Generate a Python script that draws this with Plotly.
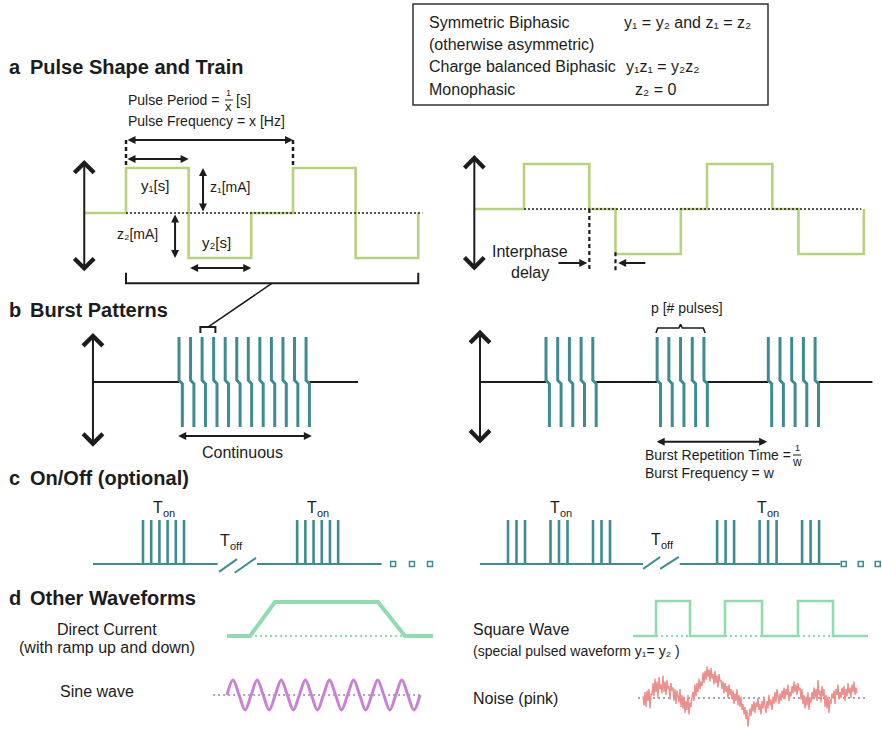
import plotly.graph_objects as go

W, H = 882, 729
FONT = "Liberation Sans, Arial, Helvetica, sans-serif"
INK = "#1c1c1c"
GREEN = "#b7d27b"
TEAL = "#3d8c91"
MINT = "#8fdcb2"
PURPLE = "#c880d8"
PINK = "#ef8f8b"
GRAY = "#8a8a8a"

# ------------------------------------------------------------------ data
# a (left): symmetric biphasic pulse train (time units, normalised amplitude)
pulse_t = [-2, 0, 0, 3, 3, 6, 6, 8, 8, 11, 11, 14, 14]
pulse_amp = [0, 0, 1, 1, -1, -1, 0, 0, 1, 1, -1, -1, 0]
pulse_period = 8
phase_width = 3

# a (right): biphasic pulse train with interphase delay
ipd_t = [-1.9, 0, 0, 2.5, 2.5, 3.5, 3.5, 6, 6, 7, 7, 9.5, 9.5, 10.5, 10.5, 13, 13]
ipd_amp = [0, 0, 1, 1, 0, 0, -1, -1, 0, 0, 1, 1, 0, 0, -1, -1, 0]

# b: burst patterns (pulse onsets in pulse periods)
cont_pulses = [0, 1, 2, 3, 4, 5, 6, 7, 8, 9, 10, 11]
burst_starts = [0, 9.5, 19]
pulses_per_burst = 5
burst_phase_gap = 0.29

# c: on/off cycling (group onsets, pulses per group)
onoff_left_groups = [0, 18.8]
onoff_left_n = 6
onoff_right_groups = [0, 5, 10, 24.6, 29.6, 34.6]
onoff_right_n = 3

# d: other waveforms
dc_t = [0, 2.3, 4.8, 15.1, 17.8, 20.6]
dc_amp = [0, 0, 1, 1, 0, 0]
sine_q = [0, 1, 2, 3, 4, 5, 6, 7, 8, 9, 10, 11, 12, 13, 14, 15, 16,
          17, 18, 19, 20, 21, 22, 23, 24, 25, 26, 27, 28, 29, 30, 31, 32]
sine_amp = [0, 1, 0, -1, 0, 1, 0, -1, 0, 1, 0, -1, 0, 1, 0, -1, 0,
            1, 0, -1, 0, 1, 0, -1, 0, 1, 0, -1, 0, 1, 0, -1, 0]
sq_t = [0, 2.3, 2.3, 5.7, 5.7, 9.2, 9.2, 12.9, 12.9, 16.5, 16.5, 20.0, 20.0, 23.5]
sq_amp = [0, 0, 1, 1, 0, 0, 1, 1, 0, 0, 1, 1, 0, 0]
noise_amp = [
    0.05, -0.25, 0.2, -0.3, 0.25, -0.1, 0.3, -0.35, 0.15, 0.1,
    0.5, 0.05, 0.65, 0.2, 0.55, 0.0, 0.7, 0.3, 0.45, 0.15,
    0.75, 0.2, 0.55, 0.1, 0.6, 0.3, 0.4, -0.05, 0.5, 0.25,
    0.35, -0.1, 0.3, -0.2, 0.25, 0.05, -0.15, 0.3, -0.3, 0.1,
    -0.35, 0.05, -0.5, -0.1, -0.4, 0.1, -0.55, -0.15, -0.3, 0.05,
    0.2, -0.1, 0.45, 0.05, 0.5, 0.2, 0.65, 0.3, 0.55, 0.4,
    0.85, 0.5, 0.9, 0.6, 1.05, 0.7, 0.95, 0.55, 1.0, 0.65,
    0.8, 0.45, 0.9, 0.5, 0.75, 0.35, 0.8, 0.55, 0.6, 0.3,
    0.55, 0.15, 0.5, 0.2, 0.4, 0.0, 0.45, 0.1, 0.3, -0.05,
    0.25, -0.2, 0.15, -0.1, 0.3, -0.25, 0.1, -0.3, 0.05, -0.4,
    -0.2, -0.55, -0.3, -0.7, -0.4, -0.95, -0.5, -0.35, -0.6, -0.2,
    -0.45, -0.1, -0.5, -0.15, -0.3, 0.0, -0.4, -0.2, -0.55, -0.1,
    -0.35, 0.05, -0.3, -0.5, -0.1, -0.35, 0.1, -0.25, -0.05, -0.4,
    0.05, -0.2, 0.2, -0.15, 0.3, 0.0, -0.2, 0.15, -0.1, 0.25,
    0.0, 0.35, -0.05, 0.3, 0.1, 0.45, -0.1, 0.2, 0.05, 0.4,
    0.15, 0.55, 0.2, 0.45, 0.1, 0.5, 0.25, 0.35, -0.05, 0.3,
    -0.2, 0.1, -0.35, 0.05, -0.25, 0.2, -0.4, 0.0, -0.15, 0.2,
    -0.05, 0.35, 0.0, 0.3, -0.1, 0.6, 0.1, 0.25, -0.15, 0.4,
    0.05, 0.3, -0.3, 0.1, -0.35, 0.05, -0.5, -0.05, -0.2, 0.15,
    0.0, 0.25, -0.2, 0.3, 0.1, 0.45, -0.05, 0.2, 0.0, 0.35,
    0.1, 0.4, -0.1, 0.3, 0.05, 0.5, 0.15, 0.35, 0.0, 0.45,
    0.2, 0.55, 0.1, 0.35, 0.15,
]
noise_idx = list(range(len(noise_amp)))

# ------------------------------------------------------------------ helpers
fig = go.Figure()
axes = {}
annos = []
shapes = []
_count = [0]


class Panel:
    def __init__(self, ox, ux, oy, uy, xr, yr):
        _count[0] += 1
        n = _count[0]
        s = "" if n == 1 else str(n)
        self.ox, self.ux, self.oy, self.uy = ox, ux, oy, uy
        self.x, self.y = "x" + s, "y" + s
        dx = [(ox + xr[0] * ux) / W, (ox + xr[1] * ux) / W]
        dy = [1 - (oy - yr[0] * uy) / H, 1 - (oy - yr[1] * uy) / H]
        axes["xaxis" + s] = dict(domain=dx, range=xr, visible=False,
                                 fixedrange=True, anchor="y" + s)
        axes["yaxis" + s] = dict(domain=dy, range=yr, visible=False,
                                 fixedrange=True, anchor="x" + s)

    def paper(self, t, a):
        return (self.ox + t * self.ux) / W, 1 - (self.oy - a * self.uy) / H


def line(p, xs, ys, color, width, dash=None, shape="linear", mode="lines", marker=None):
    fig.add_trace(go.Scatter(
        x=xs, y=ys, xaxis=p.x, yaxis=p.y, mode=mode,
        line=dict(color=color, width=width, dash=dash, shape=shape),
        marker=marker, hoverinfo="skip", showlegend=False, cliponaxis=False))


def arrow(p, t0, a0, t1, a1, both=True, head=2, width=2, size=0.8):
    annos.append(dict(
        xref=p.x, yref=p.y, axref=p.x, ayref=p.y, x=t1, y=a1, ax=t0, ay=a0,
        text="", showarrow=True, arrowhead=head, startarrowhead=head,
        arrowside="end+start" if both else "end", arrowwidth=width,
        arrowsize=size, startarrowsize=size, arrowcolor=INK,
        standoff=0, startstandoff=0))


def text(px, py, s, size=16, xanchor="left", bold=False, color=INK):
    annos.append(dict(
        xref="paper", yref="paper", x=px / W, y=1 - py / H,
        text="<b>" + s + "</b>" if bold else s, showarrow=False,
        xanchor=xanchor, yanchor="middle", borderpad=0,
        font=dict(family=FONT, size=size, color=color)))


def t_sub(cx, cy, sub, size=16):
    # "T" with a small subscript placed as its own text
    sub_w = 0.56 * 11 * len(sub) - (2 if "f" in sub else 0)
    left = cx - (0.61 * size + sub_w) / 2
    text(left, cy - 2, "T", size)
    text(left + 0.61 * size + 0.5, cy + 4, sub, 11)


def pshape_line(x0, y0, x1, y1, width=1.2, color=INK):
    shapes.append(dict(type="line", xref="paper", yref="paper",
                       x0=x0, y0=y0, x1=x1, y1=y1,
                       line=dict(color=color, width=width)))


def fraction(cx, cy, num, den, size_num=9, size_den=13, half=4):
    text(cx, cy - 7, num, size=size_num, xanchor="center")
    text(cx, cy + 6.5, den, size=size_den, xanchor="center")
    pshape_line((cx - half) / W, 1 - cy / H, (cx + half) / W, 1 - cy / H, 1)


# ------------------------------------------------------------------ a: left
pa = Panel(126, 20.875, 213, 45, [-3, 15], [-1.8, 1.9])
line(pa, pulse_t, pulse_amp, GREEN, 2.6)
line(pa, [0, 14.2], [0, 0], INK, 1.5, dash="2px,2px")
arrow(pa, -2, -1.33, -2, 1.18, head=4, width=2, size=1.9)
arrow(pa, 0, 1.62, pulse_period, 1.62)
line(pa, [0, 0, None, pulse_period, pulse_period], [1.62, 1.0, None, 1.62, 1.0],
     INK, 2.5, dash="4px,3px")
arrow(pa, 0, 1.2, phase_width, 1.2)
arrow(pa, 3.69, 0, 3.69, 1)
arrow(pa, 2.35, 0, 2.35, -1)
arrow(pa, phase_width, -1.22, 2 * phase_width, -1.22)
line(pa, [0, 0, 14, 14], [-1.33, -1.56, -1.56, -1.33], INK, 2)

text(127, 100, "Pulse Period =", 14)
fraction(229, 100, "1", "x")
text(235, 100, "[s]", 14)
text(127, 121, "Pulse Frequency = x [Hz]", 14)
text(155, 185, "y₁[s]", 15, "center")
text(230, 187, "z₁[mA]", 14, "center")
text(137, 234, "z₂[mA]", 14, "center")
text(216, 243, "y₂[s]", 15, "center")

# ------------------------------------------------------------------ a: right
pr = Panel(524, 26.14, 209, 45, [-2.5, 13.5], [-1.6, 1.5])
line(pr, ipd_t, ipd_amp, GREEN, 2.6)
line(pr, [0, 12.9], [0, 0], INK, 1.5, dash="2px,2px")
arrow(pr, -1.9, -1.4, -1.9, 1.2, head=4, width=2, size=1.9)
line(pr, [2.5, 2.5, None, 3.5, 3.5], [0, -1.36, None, -0.96, -1.36], INK, 2.2, dash="4px,3px")
arrow(pr, 1.26, -1.2, 2.42, -1.2, both=False)
arrow(pr, 4.7, -1.2, 3.6, -1.2, both=False)
text(530, 251, "Interphase", 16, "center")
text(530, 272, "delay", 16, "center")

# ------------------------------------------------------------------ legend box
shapes.append(dict(type="rect", xref="paper", yref="paper",
                   x0=413 / W, y0=1 - 105 / H, x1=768 / W, y1=1 - 4 / H,
                   line=dict(color="#333333", width=1.5)))
text(428, 22, "Symmetric Biphasic", 16)
text(428, 44.5, "(otherwise asymmetric)", 16)
text(428, 67, "Charge balanced Biphasic", 16)
text(428, 89.5, "Monophasic", 16)
text(623, 22, "y₁ = y₂ and z₁ = z₂", 16)
text(625, 67, "y₁z₁ = y₂z₂", 16)
text(634, 89.5, "z₂ = 0", 16)

# ------------------------------------------------------------------ section titles
for lbl, title, yy in [("a", "Pulse Shape and Train", 67), ("b", "Burst Patterns", 310),
                       ("c", "On/Off (optional)", 478), ("d", "Other Waveforms", 598)]:
    text(8, yy, lbl, 20, bold=True)
    text(29, yy, title, 20, bold=True)


def burst_trace(onsets, d):
    xs, ys = [], []
    for t in onsets:
        xs += [t, t, t + d, t + d, None]
        ys += [1, 0.04, -0.04, -1, None]
    return xs, ys


# ------------------------------------------------------------------ b: left
pb = Panel(179, 11.55, 382, 45, [-8.5, 16.5], [-1.6, 1.5])
line(pb, [-7.45, cont_pulses[0], None, cont_pulses[-1] + burst_phase_gap, 15.5],
     [0, 0, None, 0, 0], INK, 2)
bx, by = burst_trace(cont_pulses, burst_phase_gap)
line(pb, bx, by, TEAL, 3)
arrow(pb, -7.45, -1.47, -7.45, 1.09, head=4, width=2, size=1.9)
line(pb, [1.85, 1.85, 3.15, 3.15], [1.09, 1.22, 1.22, 1.09], INK, 2)
arrow(pb, -0.2, -1.2, cont_pulses[-1] + 0.5, -1.2)
text(242, 452, "Continuous", 16, "center")
# connector from the bracket in (a) to one pulse in (b)
x0, y0 = pa.paper(7, -1.56)
x1, y1 = pb.paper(2.5, 1.22)
pshape_line(x0, y0, x1, y1, 1.5)

# ------------------------------------------------------------------ b: right
pbr = Panel(546, 11.7, 382, 45, [-6.5, 28.5], [-1.6, 1.5])
onsets = []
for s in burst_starts:
    onsets += [s + k for k in range(pulses_per_burst)]
seg_x, seg_y = [-5.64, burst_starts[0], None], [0, 0, None]
for i in range(len(burst_starts) - 1):
    seg_x += [burst_starts[i] + pulses_per_burst - 1 + burst_phase_gap, burst_starts[i + 1], None]
    seg_y += [0, 0, None]
seg_x += [burst_starts[-1] + pulses_per_burst - 1 + burst_phase_gap, 27.9]
seg_y += [0, 0]
line(pbr, seg_x, seg_y, INK, 2)
bx, by = burst_trace(onsets, burst_phase_gap)
line(pbr, bx, by, TEAL, 3)
arrow(pbr, -5.64, -1.4, -5.64, 1.16, head=4, width=2, size=1.9)
b2 = burst_starts[1]
line(pbr, [b2 - 0.1, b2 + 0.05, b2 + 1.85, b2 + 2.0, b2 + 2.15, b2 + 3.95, b2 + 4.1],
     [1.09, 1.2, 1.2, 1.28, 1.2, 1.2, 1.09], INK, 1.6)
text(687, 308, "p [# pulses]", 14, "center")
arrow(pbr, burst_starts[1] - 0.17, -1.33, burst_starts[2] - 0.1, -1.33)
text(644, 455, "Burst Repetition Time =", 14)
fraction(797, 455, "1", "w", size_den=12)
text(644, 473, "Burst Frequency = w", 14)

# ------------------------------------------------------------------ c: left
pc = Panel(143, 8.2, 564, 44, [-7, 37], [-0.5, 1.3])
line(pc, [-6.1, 9.1, None, 13.9, 29.1], [0, 0, None, 0, 0], TEAL, 2)
line(pc, [9.27, 11.46, None, 11.2, 13.78], [-0.18, 0.11, None, -0.2, 0.14], TEAL, 2)
cx, cy = [], []
for g in onoff_left_groups:
    for k in range(onoff_left_n):
        cx += [g + k, g + k, None]
        cy += [0, 1, None]
line(pc, cx, cy, TEAL, 2.6)
line(pc, [30.5, 32.8, 35.0], [0, 0, 0], TEAL, 1, mode="markers",
     marker=dict(symbol="square-open", size=5, color=TEAL, line=dict(width=1.5, color=TEAL)))
t_sub(163, 509, "on")
t_sub(317, 509, "on")
t_sub(232, 542, "off")

# ------------------------------------------------------------------ c: right
pcr = Panel(508, 8.5, 564, 44, [-4.5, 43.9], [-0.5, 1.3])
line(pcr, [-3.3, 15.9, None, 20.2, 39.1], [0, 0, None, 0, 0], TEAL, 2)
line(pcr, [15.9, 17.9, None, 17.9, 20.1], [-0.11, 0.16, None, -0.11, 0.16], TEAL, 2)
cx, cy = [], []
for g in onoff_right_groups:
    for k in range(onoff_right_n):
        cx += [g + k, g + k, None]
        cy += [0, 1, None]
line(pcr, cx, cy, TEAL, 2.6)
line(pcr, [39.5, 41.5, 43.5], [0, 0, 0], TEAL, 1, mode="markers",
     marker=dict(symbol="square-open", size=5, color=TEAL, line=dict(width=1.5, color=TEAL)))
t_sub(560, 509, "on")
t_sub(767, 509, "on")
t_sub(663, 541, "off")

# ------------------------------------------------------------------ d: waveforms
pdc = Panel(227, 10, 636, 34, [-1, 22], [-0.4, 1.4])
line(pdc, [dc_t[1], dc_t[4]], [0, 0], MINT, 2, dash="2px,3px")
line(pdc, dc_t, dc_amp, MINT, 4)
text(107, 629, "Direct Current", 16, "center")
text(107, 647, "(with ramp up and down)", 16, "center")

psn = Panel(227, 6.03, 695, 15, [-3, 33], [-1.5, 1.5])
line(psn, [-2.3, 32.3], [0, 0], GRAY, 1.5, dash="2px,3px")
line(psn, sine_q, sine_amp, PURPLE, 3, shape="spline")
text(97, 691, "Sine wave", 16, "center")

psq = Panel(633, 10, 636, 35, [-1, 24], [-0.4, 1.3])
dx_, dy_ = [], []
for i in range(1, len(sq_t) - 1, 4):
    dx_ += [sq_t[i], sq_t[i + 2], None]
    dy_ += [0, 0, None]
line(psq, dx_, dy_, MINT, 2, dash="2px,3px")
line(psq, sq_t, sq_amp, MINT, 2.6)
text(472, 629, "Square Wave", 16)
text(472, 651, "(special pulsed waveform y₁= y₂ )", 14)

pns = Panel(643, 1, 698, 30, [-8, 224], [-1.0, 1.3])
line(pns, [-5, 222], [0, 0], GRAY, 1.5, dash="2px,3px")
line(pns, noise_idx, noise_amp, PINK, 1.4)
text(472, 698, "Noise (pink)", 16)

# ------------------------------------------------------------------ layout
fig.update_layout(
    width=W, height=H, autosize=False,
    margin=dict(l=0, r=0, t=0, b=0),
    paper_bgcolor="white", plot_bgcolor="rgba(0,0,0,0)",
    showlegend=False, annotations=annos, shapes=shapes,
    font=dict(family=FONT, color=INK), **axes)

fig.write_html("out.html", config={"displayModeBar": False},
               post_script="document.body.style.margin='0px';document.body.style.padding='0px';")
